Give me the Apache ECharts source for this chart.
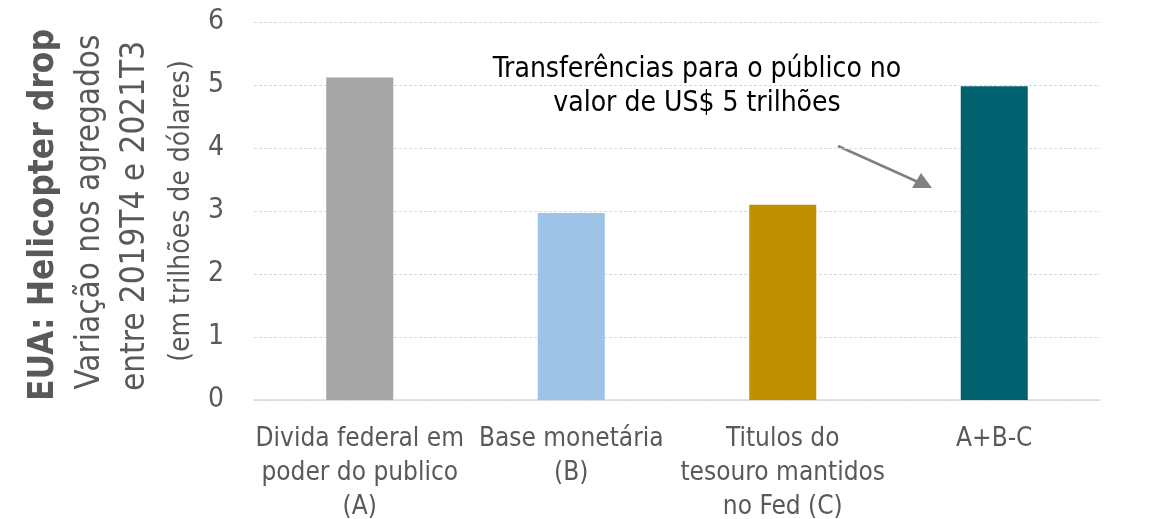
<!DOCTYPE html>
<html>
<head>
<meta charset="utf-8">
<script src="https://cdn.jsdelivr.net/npm/echarts@6/dist/echarts.min.js"></script>
<style>
  html, body { margin: 0; padding: 0; background: #fff; }
  #container { width: 1153px; height: 519px; }
</style>
</head>
<body>
<div id="container"></div>
<script>
var dom = document.getElementById("container");
var myChart = echarts.init(dom);

// data
var categories = [
    'Divida federal em\npoder do publico\n(A)',
    'Base monetária\n(B)',
    'Titulos do\ntesouro mantidos\nno Fed (C)',
    'A+B-C'
];
var values = [5.12, 2.97, 3.10, 4.98];
var barColors = ['#A5A5A5', '#9DC3E6', '#BF9000', '#02616F'];
var yTicks = [0, 1, 2, 3, 4, 5, 6];

var font = '"Liberation Sans Narrow", "DejaVu Sans Condensed", Lato, sans-serif';

var option = {
    animation: false,
    grid: {
        left: 254,
        right: 53,
        top: 22,
        bottom: 119,
        outerBoundsMode: 'none'
    },
    xAxis: {
        type: 'category',
        data: categories,
        axisTick: { show: false },
        axisLine: { lineStyle: { color: '#D9D9D9', width: 1.5 } },
        axisLabel: {
            color: '#595959',
            fontSize: 26,
            fontFamily: font,
            lineHeight: 34,
            margin: 22,
            interval: 0
        }
    },
    yAxis: {
        type: 'value',
        min: yTicks[0],
        max: yTicks[yTicks.length - 1],
        interval: 1,
        axisLine: { show: false },
        axisTick: { show: false },
        splitLine: { lineStyle: { color: '#D9D9D9', type: [3, 2] } },
        axisLabel: {
            color: '#595959',
            fontSize: 28,
            fontFamily: font,
            margin: 30
        }
    },
    series: [{
        type: 'bar',
        barWidth: 67,
        data: values.map(function (v, i) {
            return { value: v, itemStyle: { color: barColors[i] } };
        })
    }],
    graphic: [
        {
            type: 'text',
            x: 697,
            y: 70,
            style: {
                text: 'Transferências para o público no',
                fill: '#000',
                fontSize: 28,
                fontFamily: font,
                align: 'center',
                verticalAlign: 'middle'
            }
        },
        {
            type: 'text',
            x: 697,
            y: 104,
            style: {
                text: 'valor de US$ 5 trilhões',
                fill: '#000',
                fontSize: 28,
                fontFamily: font,
                align: 'center',
                verticalAlign: 'middle'
            }
        },
        {
            type: 'line',
            shape: { x1: 838, y1: 146, x2: 918, y2: 182 },
            style: { stroke: '#808080', lineWidth: 2.5 }
        },
        {
            type: 'polygon',
            shape: { points: [[932, 188], [912, 188], [921, 173]] },
            style: { fill: '#808080' }
        },
        {
            type: 'text',
            x: 44, y: 215,
            rotation: Math.PI / 2,
            style: {
                text: 'EUA: Helicopter drop',
                fill: '#595959',
                fontSize: 35,
                fontWeight: 'bold',
                fontFamily: font,
                align: 'center',
                verticalAlign: 'middle'
            }
        },
        {
            type: 'text',
            x: 90, y: 212,
            rotation: Math.PI / 2,
            style: {
                text: 'Variação nos agregados',
                fill: '#595959',
                fontSize: 33,
                fontFamily: font,
                align: 'center',
                verticalAlign: 'middle'
            }
        },
        {
            type: 'text',
            x: 135, y: 216,
            rotation: Math.PI / 2,
            style: {
                text: 'entre 2019T4 e 2021T3',
                fill: '#595959',
                fontSize: 33,
                fontFamily: font,
                align: 'center',
                verticalAlign: 'middle'
            }
        },
        {
            type: 'text',
            x: 182, y: 211,
            rotation: Math.PI / 2,
            style: {
                text: '(em trilhões de dólares)',
                fill: '#595959',
                fontSize: 28,
                fontFamily: font,
                align: 'center',
                verticalAlign: 'middle'
            }
        }
    ]
};

myChart.setOption(option);
</script>
</body>
</html>
